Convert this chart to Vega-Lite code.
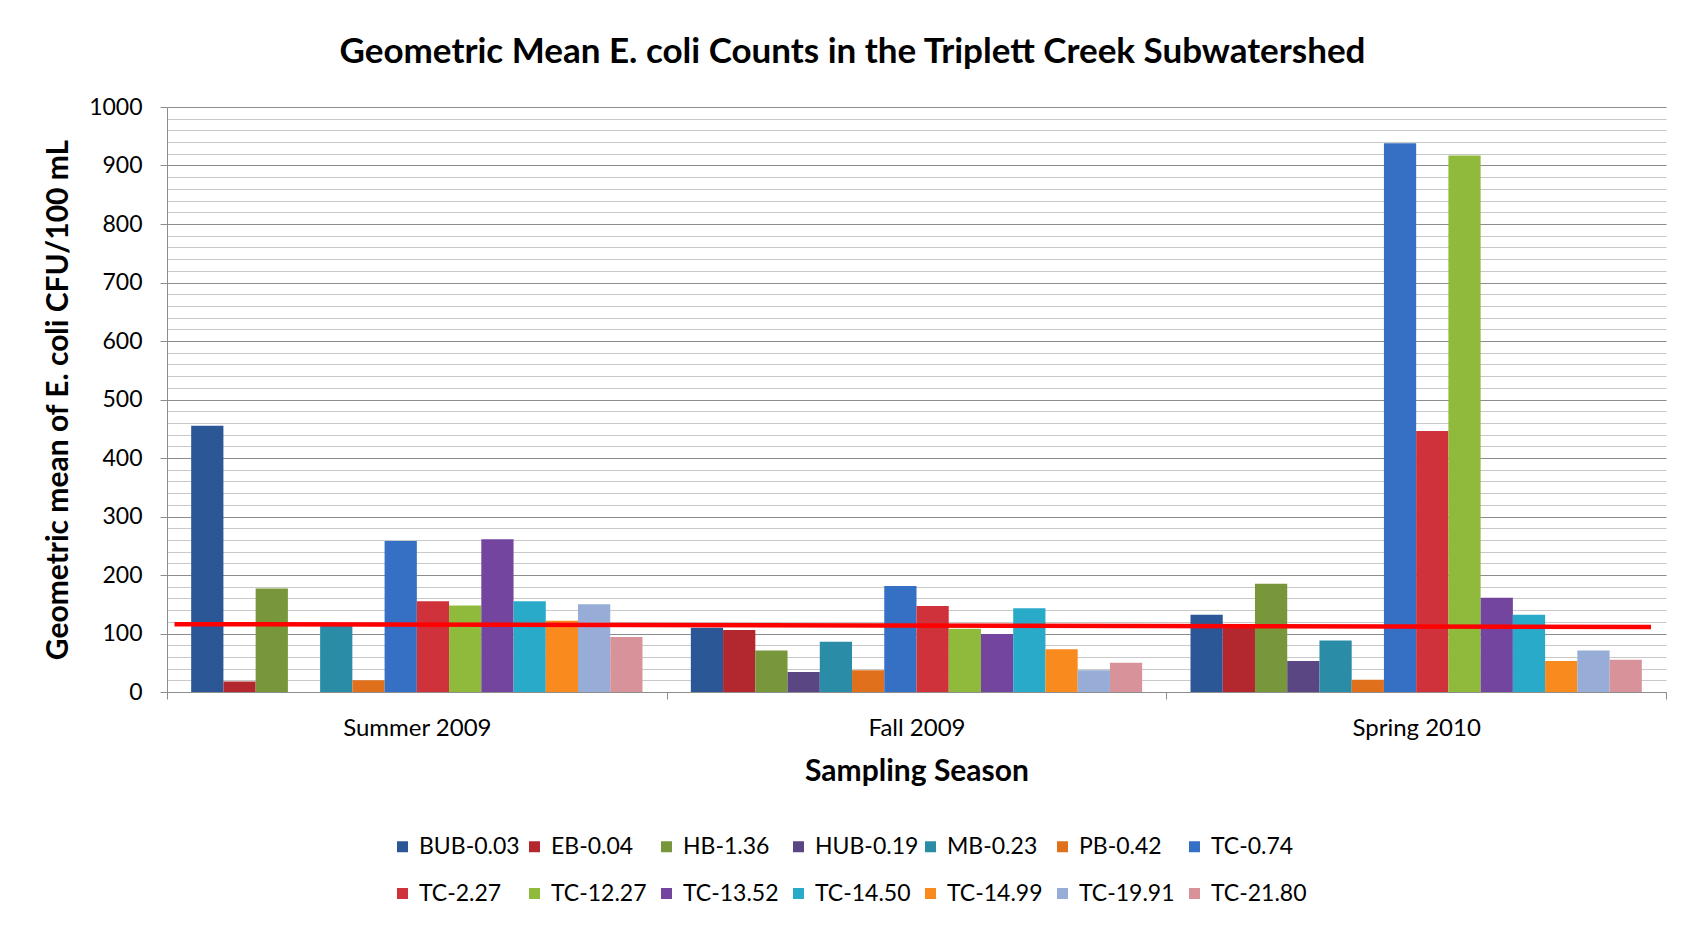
{
  "$schema": "https://vega.github.io/schema/vega-lite/v6.json",
  "width": 1499,
  "height": 585,
  "autosize": {"type": "none"},
  "padding": {"left": 167, "top": 107, "right": 21, "bottom": 237},
  "background": "white",
  "config": {
    "view": {"stroke": null},
    "font": "Lato"
  },
  "title": {
    "text": "Geometric Mean E. coli Counts in the Triplett Creek Subwatershed",
    "font": "Lato",
    "fontSize": 35,
    "fontWeight": "bold",
    "color": "#000000",
    "anchor": "middle",
    "frame": "group",
    "dx": -64,
    "offset": 26
  },
  "encoding": {
    "y": {
      "field": "value",
      "type": "quantitative",
      "title": "Geometric mean of E. coli CFU/100 mL",
      "scale": {"domain": [0, 1000], "nice": false},
      "axis": {
        "values": [0, 20, 40, 60, 80, 100, 120, 140, 160, 180, 200, 220, 240, 260, 280, 300, 320, 340, 360, 380, 400, 420, 440, 460, 480, 500, 520, 540, 560, 580, 600, 620, 640, 660, 680, 700, 720, 740, 760, 780, 800, 820, 840, 860, 880, 900, 920, 940, 960, 980, 1000],
        "format": "d",
        "labelExpr": "datum.value % 100 === 0 ? datum.label : ''",
        "grid": true,
        "gridColor": {"condition": {"test": "datum.value % 100 === 0", "value": "#8c8c8c"}, "value": "#c8c8c8"},
        "gridWidth": 1,
        "tickOpacity": {"condition": {"test": "datum.value % 100 === 0", "value": 1}, "value": 0},
        "tickSize": 7,
        "tickColor": "#8c8c8c",
        "domainColor": "#8c8c8c",
        "labelFont": "Lato",
        "labelFontSize": 23,
        "labelColor": "#000000",
        "labelPadding": 18,
        "titleFont": "Lato",
        "titleFontSize": 30,
        "titleFontWeight": "bold",
        "titleColor": "#000000",
        "titlePadding": 15
      }
    }
  },
  "layer": [
    {
      "data": {
        "values": [
          {"season": "Summer 2009", "station": "BUB-0.03", "value": 455},
          {"season": "Summer 2009", "station": "EB-0.04", "value": 18},
          {"season": "Summer 2009", "station": "HB-1.36", "value": 177},
          {"season": "Summer 2009", "station": "HUB-0.19", "value": 0},
          {"season": "Summer 2009", "station": "MB-0.23", "value": 118},
          {"season": "Summer 2009", "station": "PB-0.42", "value": 20},
          {"season": "Summer 2009", "station": "TC-0.74", "value": 258},
          {"season": "Summer 2009", "station": "TC-2.27", "value": 155},
          {"season": "Summer 2009", "station": "TC-12.27", "value": 148},
          {"season": "Summer 2009", "station": "TC-13.52", "value": 261},
          {"season": "Summer 2009", "station": "TC-14.50", "value": 155},
          {"season": "Summer 2009", "station": "TC-14.99", "value": 122},
          {"season": "Summer 2009", "station": "TC-19.91", "value": 150},
          {"season": "Summer 2009", "station": "TC-21.80", "value": 94},
          {"season": "Fall 2009", "station": "BUB-0.03", "value": 110},
          {"season": "Fall 2009", "station": "EB-0.04", "value": 106},
          {"season": "Fall 2009", "station": "HB-1.36", "value": 71},
          {"season": "Fall 2009", "station": "HUB-0.19", "value": 34},
          {"season": "Fall 2009", "station": "MB-0.23", "value": 86},
          {"season": "Fall 2009", "station": "PB-0.42", "value": 37},
          {"season": "Fall 2009", "station": "TC-0.74", "value": 181},
          {"season": "Fall 2009", "station": "TC-2.27", "value": 147},
          {"season": "Fall 2009", "station": "TC-12.27", "value": 108},
          {"season": "Fall 2009", "station": "TC-13.52", "value": 99},
          {"season": "Fall 2009", "station": "TC-14.50", "value": 143},
          {"season": "Fall 2009", "station": "TC-14.99", "value": 73},
          {"season": "Fall 2009", "station": "TC-19.91", "value": 37},
          {"season": "Fall 2009", "station": "TC-21.80", "value": 50},
          {"season": "Spring 2010", "station": "BUB-0.03", "value": 132},
          {"season": "Spring 2010", "station": "EB-0.04", "value": 112},
          {"season": "Spring 2010", "station": "HB-1.36", "value": 185},
          {"season": "Spring 2010", "station": "HUB-0.19", "value": 53},
          {"season": "Spring 2010", "station": "MB-0.23", "value": 88},
          {"season": "Spring 2010", "station": "PB-0.42", "value": 21},
          {"season": "Spring 2010", "station": "TC-0.74", "value": 938},
          {"season": "Spring 2010", "station": "TC-2.27", "value": 446},
          {"season": "Spring 2010", "station": "TC-12.27", "value": 917},
          {"season": "Spring 2010", "station": "TC-13.52", "value": 161},
          {"season": "Spring 2010", "station": "TC-14.50", "value": 132},
          {"season": "Spring 2010", "station": "TC-14.99", "value": 53},
          {"season": "Spring 2010", "station": "TC-19.91", "value": 71},
          {"season": "Spring 2010", "station": "TC-21.80", "value": 55}
        ]
      },
      "mark": {"type": "bar"},
      "encoding": {
        "x": {
          "field": "season",
          "type": "nominal",
          "sort": ["Summer 2009", "Fall 2009", "Spring 2010"],
          "scale": {"paddingInner": 0, "paddingOuter": 0},
          "axis": {
            "title": "Sampling Season",
            "titleFont": "Lato",
            "titleFontSize": 30,
            "titleFontWeight": "bold",
            "titleColor": "#000000",
            "titlePadding": 16,
            "labelAngle": 0,
            "labelFont": "Lato",
            "labelFontSize": 24,
            "labelColor": "#000000",
            "labelPadding": 17,
            "tickBand": "extent",
            "tickSize": 7,
            "tickColor": "#8c8c8c",
            "domainColor": "#8c8c8c",
            "grid": false
          }
        },
        "xOffset": {
          "field": "station",
          "type": "nominal",
          "sort": ["BUB-0.03", "EB-0.04", "HB-1.36", "HUB-0.19", "MB-0.23", "PB-0.42", "TC-0.74", "TC-2.27", "TC-12.27", "TC-13.52", "TC-14.50", "TC-14.99", "TC-19.91", "TC-21.80"],
          "scale": {"paddingInner": 0, "paddingOuter": 0.75}
        },
        "color": {
          "field": "station",
          "type": "nominal",
          "scale": {
            "domain": ["BUB-0.03", "EB-0.04", "HB-1.36", "HUB-0.19", "MB-0.23", "PB-0.42", "TC-0.74", "TC-2.27", "TC-12.27", "TC-13.52", "TC-14.50", "TC-14.99", "TC-19.91", "TC-21.80"],
            "range": ["#2b5797", "#b3282f", "#77973a", "#5b4684", "#2b8ca8", "#e0701c", "#3570c4", "#cf323a", "#8fba3c", "#74459f", "#28aac8", "#f98a1e", "#97acd6", "#d8939a"]
          },
          "legend": {
            "orient": "none",
            "legendX": 224,
            "legendY": 728,
            "direction": "horizontal",
            "columns": 7,
            "gridAlign": "all",
            "title": null,
            "symbolType": "square",
            "symbolSize": 121,
            "symbolStrokeWidth": 0,
            "labelFont": "Lato",
            "labelFontSize": 23,
            "labelColor": "#000000",
            "labelOffset": 5,
            "columnPadding": 0,
            "rowPadding": 23
          }
        }
      }
    },
    {
      "data": {
        "values": [
          {"t": 0.005, "value": 116},
          {"t": 0.99, "value": 111}
        ]
      },
      "mark": {"type": "line", "color": "#ff0000", "strokeWidth": 4.5},
      "encoding": {
        "x": {"field": "t", "type": "quantitative", "scale": {"domain": [0, 1]}, "axis": null}
      }
    }
  ],
  "resolve": {"scale": {"x": "independent"}, "axis": {"x": "independent"}}
}
